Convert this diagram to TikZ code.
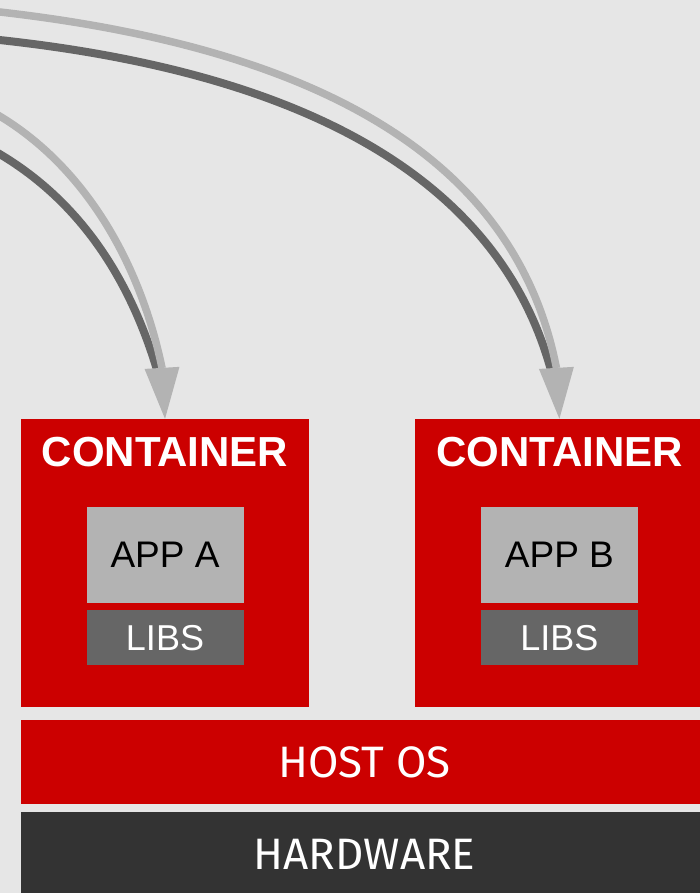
\documentclass[tikz,border=0pt]{standalone}
\usepackage{fontspec}
\setmainfont{Liberation Sans}
\newfontfamily\layerfont{Fira Sans}
\usetikzlibrary{positioning,arrows.meta}

\definecolor{rhred}{HTML}{CC0000}
\definecolor{lightgrey}{HTML}{B3B3B3}
\definecolor{midgrey}{HTML}{666666}
\definecolor{darkgrey}{HTML}{333333}
\definecolor{backgrey}{HTML}{E6E6E6}

\tikzset{
    box/.style={rectangle,inner sep=0pt,anchor=center},
    container/.style={box,fill=rhred,minimum width=288pt,minimum height=288pt},
    ctitle/.style={text=white,font=\bfseries\fontsize{42}{42}\selectfont},
    app/.style={box,fill=lightgrey,text=black,minimum width=157pt,minimum height=96pt,
        font=\fontsize{37}{37}\selectfont},
    libs/.style={box,fill=midgrey,text=white,minimum width=157pt,minimum height=55pt,
        font=\fontsize{36}{36}\selectfont},
    layer/.style={box,text=white,minimum width=687pt,minimum height=84pt,
        font=\layerfont\fontsize{44}{44}\selectfont},
    pull/.style={line width=7.5pt,draw=lightgrey,
        -{Triangle[width=35pt,length=51pt,line width=0pt]}},
    pullshade/.style={line width=8pt,draw=midgrey},
}

\begin{document}
\begin{tikzpicture}[x=1pt,y=-1pt]
    \useasboundingbox (0,0) rectangle (700,893);
    \clip (0,0) rectangle (700,893);
    \fill[backgrey] (0,0) rectangle (700,893);

    %% containers
    \node[container] (contA) at (165,563) {};
    \node[container,right=106pt of contA] (contB) {};
    \node[ctitle] (titleA) at ([yshift=-33.5pt]contA.north) {CONTAINER};
    \node[ctitle] (titleB) at ([yshift=-33.5pt]contB.north) {CONTAINER};
    \node[app] (appA) at ([yshift=8pt]contA.center) {APP A};
    \node[libs,below=7pt of appA] (libsA) {LIBS};
    \node[app] (appB) at ([yshift=8pt]contB.center) {APP B};
    \node[libs,below=7pt of appB] (libsB) {LIBS};

    %% layers
    \node[layer,fill=rhred] (hostos) at (364.5,762) {HOST OS};
    \node[layer,fill=darkgrey,below=8pt of hostos] (hardware) {HARDWARE};

    %% pulls
    \coordinate (srcA) at (-10,110.5);
    \coordinate (srcAshade) at (-10,148.5);
    \coordinate (srcB) at (-10,10.9);
    \coordinate (srcBshade) at (-10,39);
    \draw[pullshade] (srcAshade) .. controls (80,198) and (130,280) .. ([shift={(-8,-49)}]contA.north);
    \draw[pull] (srcA) .. controls (80,160) and (138.8,257) .. ([shift={(-3,-51)}]contA.north) -- (contA.north);
    \draw[pullshade] (srcBshade) .. controls (340,75) and (505,200) .. ([shift={(-8,-47)}]contB.north);
    \draw[pull] (srcB) .. controls (350,50) and (519,177) .. ([shift={(-3,-51)}]contB.north) -- (contB.north);
\end{tikzpicture}
\end{document}
